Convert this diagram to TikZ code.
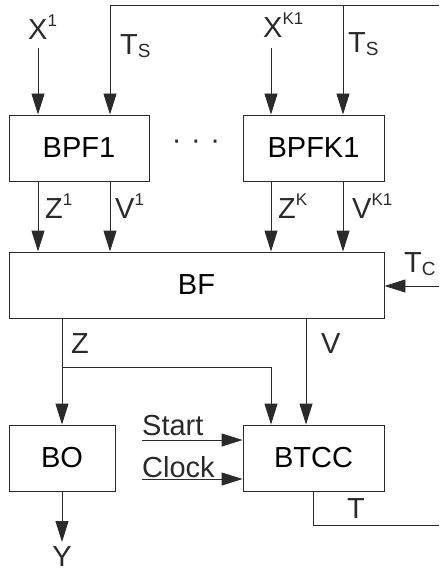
\documentclass[tikz,border=0pt]{standalone}
\usepackage{fontspec}
\setmainfont{Liberation Sans}
\usetikzlibrary{arrows.meta}
\newcommand\supx[1]{\raisebox{13pt}{\fontsize{17}{17}\selectfont #1}}
\newcommand\subx[1]{\raisebox{-3pt}{\fontsize{19}{19}\selectfont #1}}
\definecolor{ink}{HTML}{2A2A2A}
\tikzset{
  x=1pt, y=-1pt,
  box/.style={draw=ink, line width=0.9pt, minimum height=66pt, inner sep=0pt, font=\fontsize{29}{31}\selectfont},
  lbl/.style={anchor=base west, inner sep=0pt, font=\fontsize{29}{31}\selectfont, text=ink},
  wire/.style={draw=ink, line width=0.9pt},
  arr/.style={wire, -{Triangle[length=21pt,width=13pt]}}
}
\begin{document}
\begin{tikzpicture}
\useasboundingbox (0,0) rectangle (439,572);
% boxes
\node[box, minimum width=140pt] (bpf1) at (79,148) {BPF1};
\node[box, minimum width=141pt] (bpfk) at (313.5,148) {BPFK1};
\node[box, minimum width=375pt] (bf) at (196.5,285) {BF};
\node[box, minimum width=106pt] (bo) at (62,458) {BO};
\node[box, minimum width=141pt] (btcc) at (313.5,458) {BTCC};
\node[lbl, anchor=center] (dots) at (196,145) {·\hspace{1.5pt} ·\hspace{1.5pt} ·};
% coordinates
\coordinate (x1s) at (38,48);
\coordinate (xks) at (271,48);
\coordinate (topL) at (110,5);
\coordinate (topR) at (439,5);
\coordinate (tsk) at (343,5);
\coordinate (tc) at (439,286);
\coordinate (zb) at (62,318);
\coordinate (zj) at (62,367);
\coordinate (vb) at (306,318);
\coordinate (tout) at (439,525);
\coordinate (startS) at (142,440);
\coordinate (clockS) at (142,479);
\coordinate (yend) at (62,542);
% labels
\node[lbl] (lx1) at (28,40) {X\supx{1}};
\node[lbl] (lts1) at (120,55) {T\subx{S}};
\node[lbl] (lxk) at (263,38) {X\supx{K1}};
\node[lbl] (ltsk) at (348,53) {T\subx{S}};
\node[lbl] (lz1) at (45,218) {Z\supx{1}};
\node[lbl] (lv1) at (115,218) {V\supx{1}};
\node[lbl] (lzk) at (278,218) {Z\supx{K}};
\node[lbl] (lvk) at (352,218) {V\supx{K1}};
\node[lbl] (ltc) at (404,272) {T\subx{C}};
\node[lbl] (lz) at (71,353) {Z};
\node[lbl] (lv) at (321,353) {V};
\node[lbl] (lstart) at (142,435) {Start};
\node[lbl] (lclock) at (142,477) {Clock};
\node[lbl] (lt) at (347,518) {T};
\node[lbl, anchor=base] (ly) at (62,566) {Y};
% connectors
\draw[arr] (x1s) -- (x1s |- bpf1.north);
\draw[arr] (xks) -- (xks |- bpfk.north);
\draw[wire] (topR) -- (topL);
\draw[arr] (topL) -- (topL |- bpf1.north);
\draw[arr] (tsk) -- (tsk |- bpfk.north);
\draw[arr] (bpf1.south -| x1s) -- (bf.north -| x1s);
\draw[arr] (bpf1.south -| topL) -- (bf.north -| topL);
\draw[arr] (bpfk.south -| xks) -- (bf.north -| xks);
\draw[arr] (bpfk.south -| tsk) -- (bf.north -| tsk);
\draw[arr] (tc) -- (bf.east |- tc);
\draw[arr] (zb) -- (bo.north);
\draw[arr] (zj) -| (btcc.north -| xks);
\draw[arr] (vb) -- (btcc.north -| vb);
\draw[arr] (startS) -- (btcc.west |- startS);
\draw[arr] (clockS) -- (btcc.west |- clockS);
\draw[wire] (btcc.south -| 313,0) |- (tout);
\draw[arr] (bo.south) -- (yend);
\end{tikzpicture}
\end{document}
